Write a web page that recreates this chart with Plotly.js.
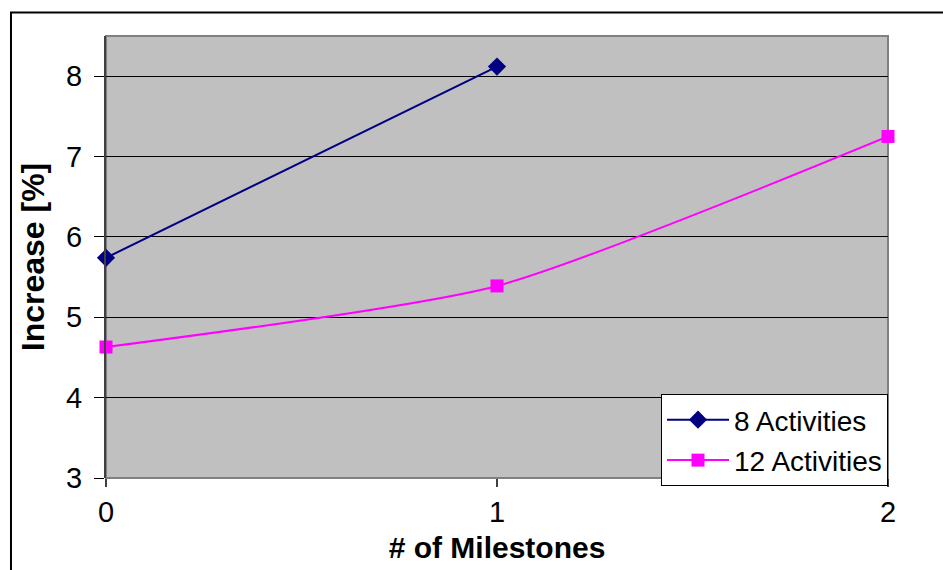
<!DOCTYPE html>
<html>
<head>
<meta charset="utf-8">
<script src="https://cdn.plot.ly/plotly-3.0.1.min.js"></script>
<style>
  html, body { margin: 0; padding: 0; background: #ffffff; }
  #chart { width: 943px; height: 570px; }
</style>
</head>
<body>
<div id="chart"></div>
<script>
// Number of milestones on the x axis
const milestones8 = [0, 1];
const milestones12 = [0, 1, 2];

// Increase [%] for each schedule size
const increase8 = [5.74, 8.12];
const increase12 = [4.63, 5.39, 7.25];

const seriesNames = ['8 Activities', '12 Activities'];
const yTicks = [3, 4, 5, 6, 7, 8];
const xTicks = [0, 1, 2];

const traces = [
  {
    x: milestones8, y: increase8, name: seriesNames[0],
    type: 'scatter', mode: 'lines+markers', legendgroup: 'a',
    line: { color: '#000080', width: 2 },
    marker: { symbol: 'diamond', size: 14, color: '#000080' },
    cliponaxis: false
  },
  {
    x: milestones12, y: increase12, name: seriesNames[1],
    type: 'scatter', mode: 'lines+markers', legendgroup: 'b',
    line: { color: '#FF00FF', width: 2, shape: 'spline', smoothing: 0.6 },
    marker: { symbol: 'square', size: 13, color: '#FF00FF' },
    cliponaxis: false
  }
];

const font = 'Liberation Sans, Arial, sans-serif';

const layout = {
  width: 943, height: 570,
  margin: { l: 106, r: 55, t: 36, b: 92, pad: 0 },
  paper_bgcolor: '#ffffff',
  plot_bgcolor: '#C0C0C0',
  font: { family: font, color: '#000000', size: 28 },
  showlegend: true,
  legend: {
    x: 1, xanchor: 'right', y: 0.19, yanchor: 'top',
    bgcolor: '#ffffff', bordercolor: '#000000', borderwidth: 1,
    font: { family: font, size: 28, color: '#000000' },
    tracegroupgap: 1, itemwidth: 62
  },
  xaxis: {
    range: [0, 2], tickvals: xTicks, ticktext: xTicks.map(String),
    showgrid: false, zeroline: false, showline: false,
    ticks: 'outside', ticklen: 8, tickwidth: 2, tickcolor: '#404040',
    tickfont: { family: font, size: 29, color: '#000000' },
    title: { text: '<b># of Milestones</b>', standoff: 10,
             font: { family: font, size: 30, color: '#000000' } }
  },
  yaxis: {
    range: [3, 8.5], tickvals: yTicks, ticktext: yTicks.map(String),
    showgrid: true, gridcolor: '#000000', gridwidth: 1,
    zeroline: false, showline: true, linecolor: '#404040', linewidth: 2,
    ticks: 'outside', ticklen: 10, tickwidth: 1, tickcolor: '#000000',
    ticklabelstandoff: 6,
    tickfont: { family: font, size: 29, color: '#000000' },
    title: { text: '<b>Increase [%]</b>', standoff: 12,
             font: { family: font, size: 32, color: '#000000' } }
  },
  shapes: [
    // grey frame around the plotting area
    { type: 'rect', xref: 'paper', yref: 'paper', x0: 0, x1: 1, y0: 0, y1: 1,
      line: { color: '#808080', width: 2 }, layer: 'below' },
    // outer chart border
    { type: 'rect', xref: 'paper', yref: 'paper',
      x0: -0.1215, x1: 1.08, y0: -0.23, y1: 1.0531,
      line: { color: '#000000', width: 2 }, fillcolor: 'rgba(0,0,0,0)' }
  ]
};

Plotly.newPlot('chart', traces, layout, { displayModeBar: false, staticPlot: true });
</script>
</body>
</html>
